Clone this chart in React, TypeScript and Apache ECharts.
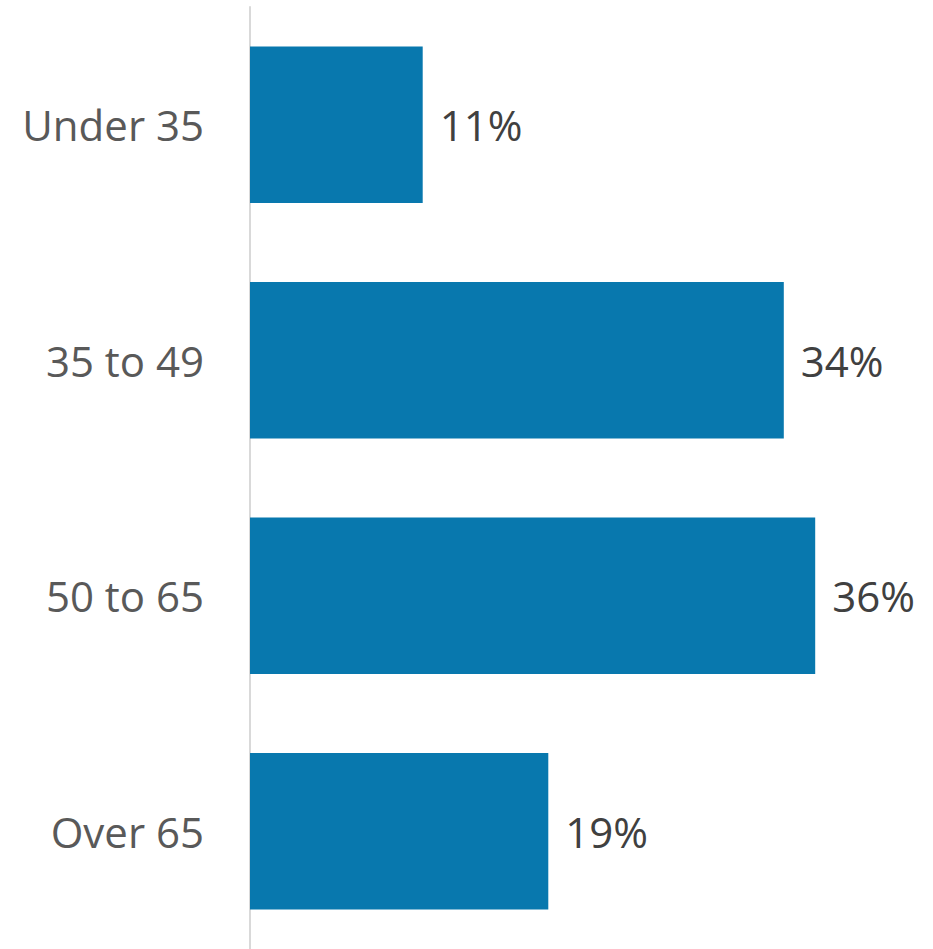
import React, { useEffect, useRef } from "react";
import * as echarts from "echarts";

const categories = ["Under 35", "35 to 49", "50 to 65", "Over 65"];
const values = [11, 34, 36, 19];

export default function App() {
  const ref = useRef<HTMLDivElement>(null);
  useEffect(() => {
    const chart = echarts.init(ref.current!, null, { renderer: "svg" });
    chart.setOption({
      animation: false,
      grid: { left: 250, top: 7, width: 628, height: 944 },
      xAxis: {
        type: "value",
        min: 0,
        max: 40,
        show: false,
      },
      yAxis: {
        type: "category",
        data: categories,
        inverse: true,
        axisLine: { show: true, lineStyle: { color: "#d9d9d9", width: 2 } },
        axisTick: { show: false },
        axisLabel: {
          margin: 46,
          fontSize: 42,
          fontFamily: "Open Sans",
          color: "#595959",
          padding: [4, 0, 0, 0],
        },
      },
      series: [
        {
          type: "bar",
          data: values,
          barCategoryGap: "33.5%",
          itemStyle: { color: "#0878AE" },
          label: {
            show: true,
            position: "right",
            distance: 17,
            formatter: "{c}%",
            fontSize: 42,
            fontFamily: "Open Sans",
            color: "#404040",
            padding: [4, 0, 0, 0],
          },
        },
      ],
    });
    return () => chart.dispose();
  }, []);
  return <div ref={ref} style={{ width: 933, height: 949, position: "absolute", left: 0, top: 0 }} />;
}
